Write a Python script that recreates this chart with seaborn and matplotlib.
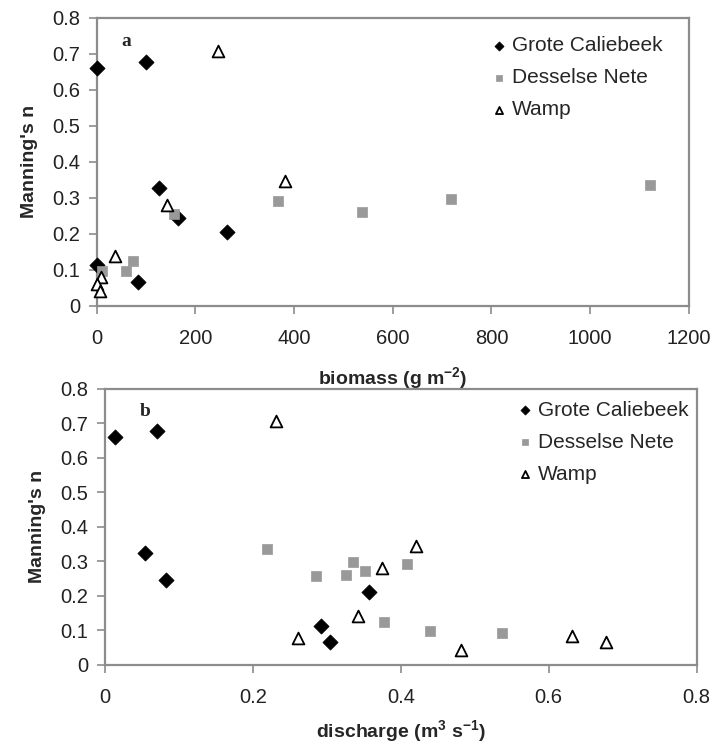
import matplotlib
matplotlib.use('Agg')
import matplotlib.pyplot as plt
import seaborn as sns
from matplotlib.ticker import FuncFormatter

# data
gc_biomass = [0, 99, 126, 164, 263, 83, 0]
gc_n_a = [0.661, 0.678, 0.327, 0.245, 0.206, 0.065, 0.114]
dn_biomass = [10, 60, 74, 156, 367, 537, 719, 1122]
dn_n_a = [0.098, 0.097, 0.126, 0.256, 0.292, 0.261, 0.297, 0.336]
wa_biomass = [245, 381, 142, 36, 8, 0, 6]
wa_n_a = [0.708, 0.347, 0.279, 0.139, 0.080, 0.061, 0.040]

gc_discharge = [0.0135, 0.070, 0.054, 0.083, 0.357, 0.304, 0.292]
gc_n_b = [0.661, 0.678, 0.325, 0.246, 0.210, 0.065, 0.111]
dn_discharge = [0.219, 0.286, 0.326, 0.335, 0.351, 0.408, 0.378, 0.440, 0.537]
dn_n_b = [0.336, 0.258, 0.261, 0.297, 0.272, 0.292, 0.125, 0.099, 0.093]
wa_discharge = [0.231, 0.261, 0.342, 0.374, 0.420, 0.481, 0.632, 0.678]
wa_n_b = [0.707, 0.078, 0.140, 0.281, 0.345, 0.043, 0.084, 0.066]

sites = ['Grote Caliebeek', 'Desselse Nete', 'Wamp']

sns.set_style('white')
plt.rcParams['font.family'] = ['Liberation Sans', 'DejaVu Sans']
plt.rcParams['mathtext.fontset'] = 'custom'
plt.rcParams['mathtext.rm'] = 'Liberation Sans'
plt.rcParams['mathtext.bf'] = 'Liberation Sans:bold'

fig = plt.figure(figsize=(7.28, 7.46), dpi=100)
ax_a = fig.add_axes([0.133, 0.590, 0.813, 0.386])
ax_b = fig.add_axes([0.144, 0.109, 0.813, 0.370])

styles = {
    'Grote Caliebeek': dict(marker='D', color='black', edgecolor='black', s=60, linewidth=0.5),
    'Desselse Nete': dict(marker='s', color='#999999', edgecolor='#999999', s=62, linewidth=0.5),
    'Wamp': dict(marker='^', color='white', edgecolor='black', s=72, linewidth=1.3),
}

panel_a = [(gc_biomass, gc_n_a), (dn_biomass, dn_n_a), (wa_biomass, wa_n_a)]
panel_b = [(gc_discharge, gc_n_b), (dn_discharge, dn_n_b), (wa_discharge, wa_n_b)]

fmt = FuncFormatter(lambda v, p: '%g' % round(v, 2))

for ax, data, xlim, xticks, xlabel, xpad, letter, letter_x, leg_anchor in [
    (ax_a, panel_a, (0, 1200), range(0, 1201, 200),
     r'biomass (g m$^{\mathbf{-2}}$)', 12, 'a', 0.042, (0.97, 0.965)),
    (ax_b, panel_b, (0, 0.8), [0, 0.2, 0.4, 0.6, 0.8],
     r'discharge (m$^{\mathbf{3}}$ s$^{\mathbf{-1}}$)', 8, 'b', 0.059, (1.0, 0.986)),
]:
    for site, (x, y) in zip(sites, data):
        sns.scatterplot(x=x, y=y, ax=ax, label=site, clip_on=False, zorder=3, **styles[site])
    ax.set_xlim(*xlim)
    ax.set_ylim(0, 0.8)
    ax.set_xticks(list(xticks))
    ax.set_yticks([i / 10 for i in range(9)])
    ax.xaxis.set_major_formatter(fmt)
    ax.yaxis.set_major_formatter(fmt)
    for sp in ax.spines.values():
        sp.set_color('#8c8c8c')
        sp.set_linewidth(1.6)
    ax.tick_params(axis='both', direction='out', length=6, width=1.2, color='#8c8c8c',
                   labelsize=14.5, labelcolor='#222222', bottom=True, left=True)
    ax.tick_params(axis='x', pad=11)
    ax.tick_params(axis='y', pad=6)
    ax.set_xlabel(xlabel, fontsize=14, fontweight='bold', labelpad=xpad)
    ax.set_ylabel("Manning's n", fontsize=14, fontweight='bold', labelpad=10)
    ax.text(letter_x, 0.917, letter, transform=ax.transAxes, fontsize=14,
            fontweight='bold', family='Liberation Serif', ha='left', va='center')
    ax.legend(loc='upper right', bbox_to_anchor=leg_anchor, frameon=False, fontsize=15,
              markerscale=0.6, handletextpad=0.1, labelspacing=0.62, borderaxespad=0,
              handlelength=1.0)

plt.savefig('out.png', dpi=100)
